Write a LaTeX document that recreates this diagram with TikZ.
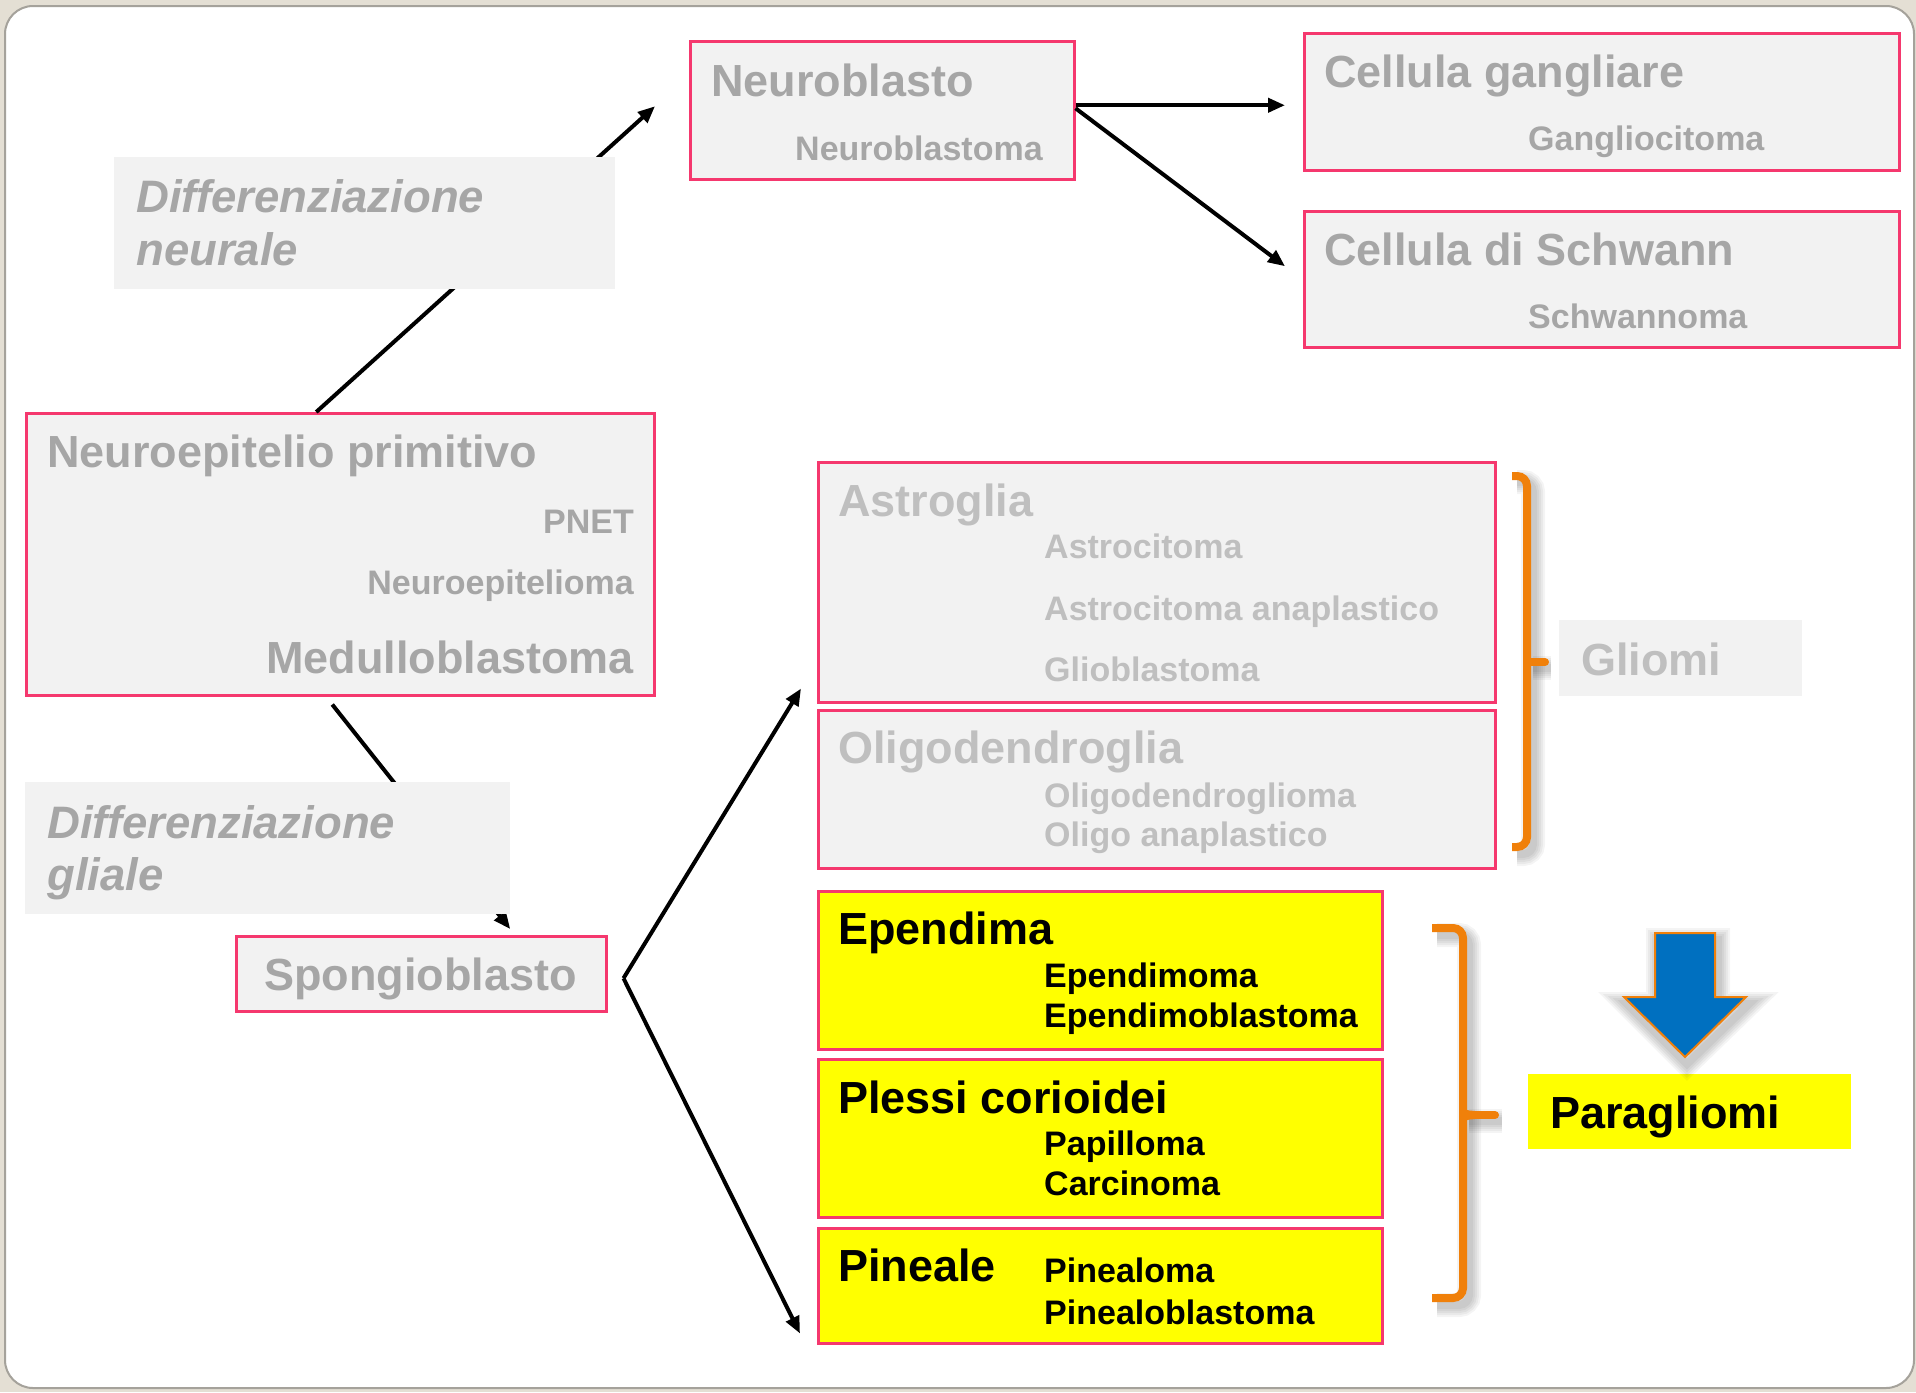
\documentclass[tikz,border=0pt]{standalone}
\usepackage{fontspec}
\setmainfont{Liberation Sans}
\usetikzlibrary{arrows.meta,calc}
\definecolor{pagebg}{RGB}{228,223,212}
\definecolor{panelline}{RGB}{165,162,155}
\definecolor{pinkline}{RGB}{245,56,110}
\definecolor{boxgray}{RGB}{242,242,242}
\definecolor{txtA}{RGB}{166,166,166}
\definecolor{txtB}{RGB}{191,191,191}
\definecolor{brace}{RGB}{240,128,10}
\definecolor{arrowblue}{RGB}{0,112,192}
\definecolor{yel}{RGB}{255,255,0}
\begin{document}
\begin{tikzpicture}[x=1pt,y=-1pt,
  cellbox/.style={draw=pinkline, line width=2.5pt, fill=boxgray, inner sep=0pt, anchor=north west},
  yelbox/.style={cellbox, fill=yel},
  tag/.style={fill=boxgray, inner sep=0pt, anchor=north west},
  headA/.style={font=\fontsize{45}{54}\selectfont\bfseries, text=txtA, inner sep=0pt, anchor=base west},
  subA/.style={font=\fontsize{34}{40}\selectfont\bfseries, text=txtA, inner sep=0pt, anchor=base west},
  headB/.style={headA, text=txtB},
  subB/.style={subA, text=txtB},
  headK/.style={headA, text=black},
  subK/.style={subA, text=black},
  slant/.style={font=\fontsize{45.5}{54}\selectfont\bfseries\itshape},
  arr/.style={line width=4pt, -{Triangle[length=17pt,width=14pt]}},
  brk/.style={draw=brace, line width=8pt, rounded corners=10pt},
  softshade/.style={draw=black, draw opacity=0.045, rounded corners=10pt}
]
\useasboundingbox (0,0) rectangle (1916,1392);

% page and slide panel
\fill[pagebg] (0,0) rectangle (1916,1392);
\draw[panelline, line width=2pt, fill=white, rounded corners=28pt] (5,6) rectangle (1914,1388);

% cell boxes
\node[cellbox, minimum width=384pt, minimum height=138pt] (nb) at (689,40) {};
\node[cellbox, minimum width=595pt, minimum height=137pt] (cg) at (1303,32) {};
\node[cellbox, minimum width=595pt, minimum height=136pt] (cs) at (1303,210) {};
\node[cellbox, minimum width=628pt, minimum height=282pt] (ne) at (25,412) {};
\node[cellbox, minimum width=370pt, minimum height=75pt] (sp) at (235,935) {};
\node[cellbox, minimum width=677pt, minimum height=240pt] (as) at (817,461) {};
\node[cellbox, minimum width=677pt, minimum height=158pt] (ol) at (817,709) {};
\node[yelbox, minimum width=564pt, minimum height=158pt] (ep) at (817,890) {};
\node[yelbox, minimum width=564pt, minimum height=158pt] (pc) at (817,1058) {};
\node[yelbox, minimum width=564pt, minimum height=115pt] (pi) at (817,1227) {};

% connectors
\draw[arr] ([xshift=-24pt]ne.north) -- ([xshift=-34pt,yshift=4pt]nb.west);
\draw[arr, shorten >=18pt] ([yshift=5pt]nb.east) -- ([yshift=5pt]nb.east -| cg.west);
\draw[arr] ([yshift=2pt]nb.east) -- ([xshift=-18pt,yshift=13pt]cs.west);
\draw[arr] ([xshift=-8pt,yshift=-8pt]ne.south) -- ([xshift=89pt,yshift=6pt]sp.north);
\coordinate (fork) at ([xshift=16pt,yshift=-4.5pt]sp.east);
\draw[arr] (fork) -- ([xshift=-16pt,yshift=15pt]as.south west);
\draw[arr] (fork) -- ([xshift=-17pt,yshift=11pt]pi.south west);

% labels
\node[tag, minimum width=501pt, minimum height=132pt] (dn) at (114,157) {};
\node[tag, minimum width=485pt, minimum height=132pt] (dg) at (25,782) {};
\node[tag, minimum width=243pt, minimum height=76pt] (gl) at (1559,620) {};
\node[tag, fill=yel, minimum width=323pt, minimum height=75pt] (pg) at (1528,1074) {};

% soft shadows of the braces and of the down arrow
\foreach \w in {8,12,16,20,24}{
  \draw[softshade, line width=\w pt] (1517,482) -- (1533,482) -- (1533,854) -- (1517,854);
  \draw[softshade, line width=\w pt] (1533,668) -- (1551,668);
  \draw[softshade, line width=\w pt] (1437,935) -- (1469,935) -- (1469,1305) -- (1437,1305);
  \draw[softshade, line width=\w pt] (1469,1121) -- (1502,1121);
  \draw[softshade, line width=\w pt, rounded corners=0pt] (1658,940) -- (1718,940) -- (1718,1004) -- (1749,1004) -- (1687,1064) -- (1627,1004) -- (1658,1004) -- cycle;
}

% braces
\draw[brk] (1512,476) -- (1527,476) -- (1527,847) -- (1512,847);
\draw[brace, line width=8pt, line cap=round] (1527,662) -- (1545,662);
\fill[brace] (1523,652) to[out=-90,in=180] (1535,659) -- (1535,665) to[out=180,in=90] (1523,672) -- cycle;
\draw[brk] (1432,928) -- (1463,928) -- (1463,1298) -- (1432,1298);
\draw[brace, line width=8pt, line cap=round] (1463,1115) -- (1495,1115);
\fill[brace] (1459,1101) to[out=-90,in=180] (1475,1111) -- (1475,1119) to[out=180,in=90] (1459,1129) -- cycle;

% downward arrow
\draw[brace, line width=2pt, fill=arrowblue] (1655,933) -- (1715,933) -- (1715,997) -- (1746,997) -- (1685,1057) -- (1624,997) -- (1655,997) -- cycle;

% texts
\node[headA] (nb-t) at (711,96) {Neuroblasto};
\node[subA] (nb-s) at (795,160) {Neuroblastoma};
\node[headA] (cg-t) at (1324,87) {Cellula gangliare};
\node[subA] (cg-s) at (1528,150) {Gangliocitoma};
\node[headA] (cs-t) at (1324,265) {Cellula di Schwann};
\node[subA] (cs-s) at (1528,328) {Schwannoma};
\node[headA, slant] (dn-1) at (136,212) {Differenziazione};
\node[headA, slant] (dn-2) at (136,265) {neurale};
\node[headA] (ne-t) at (47,467) {Neuroepitelio primitivo};
\node[subA, anchor=base east] (ne-1) at (634,533) {PNET};
\node[subA, anchor=base east] (ne-2) at (634,594) {Neuroepitelioma};
\node[headA, anchor=base east] (ne-3) at (634,673) {Medulloblastoma};
\node[headA, slant] (dg-1) at (47,838) {Differenziazione};
\node[headA, slant] (dg-2) at (47,890) {gliale};
\node[headA, anchor=base] (sp-t) at (420.5,990) {Spongioblasto};
\node[headB] (as-t) at (838,516) {Astroglia};
\node[subB] (as-1) at (1044,558) {Astrocitoma};
\node[subB] (as-2) at (1044,620) {Astrocitoma anaplastico};
\node[subB] (as-3) at (1044,681) {Glioblastoma};
\node[headB] (ol-t) at (838,763) {Oligodendroglia};
\node[subB] (ol-1) at (1044,807) {Oligodendroglioma};
\node[subB] (ol-2) at (1044,846) {Oligo anaplastico};
\node[headB] (gl-t) at (1581,675) {Gliomi};
\node[headK] (ep-t) at (838,944) {Ependima};
\node[subK] (ep-1) at (1044,987) {Ependimoma};
\node[subK] (ep-2) at (1044,1027) {Ependimoblastoma};
\node[headK] (pc-t) at (838,1113) {Plessi corioidei};
\node[subK] (pc-1) at (1044,1155) {Papilloma};
\node[subK] (pc-2) at (1044,1195) {Carcinoma};
\node[headK] (pi-t) at (838,1281) {Pineale};
\node[subK] (pi-1) at (1044,1282) {Pinealoma};
\node[subK] (pi-2) at (1044,1324) {Pinealoblastoma};
\node[headK] (pg-t) at (1550,1128) {Paragliomi};
\end{tikzpicture}
\end{document}
